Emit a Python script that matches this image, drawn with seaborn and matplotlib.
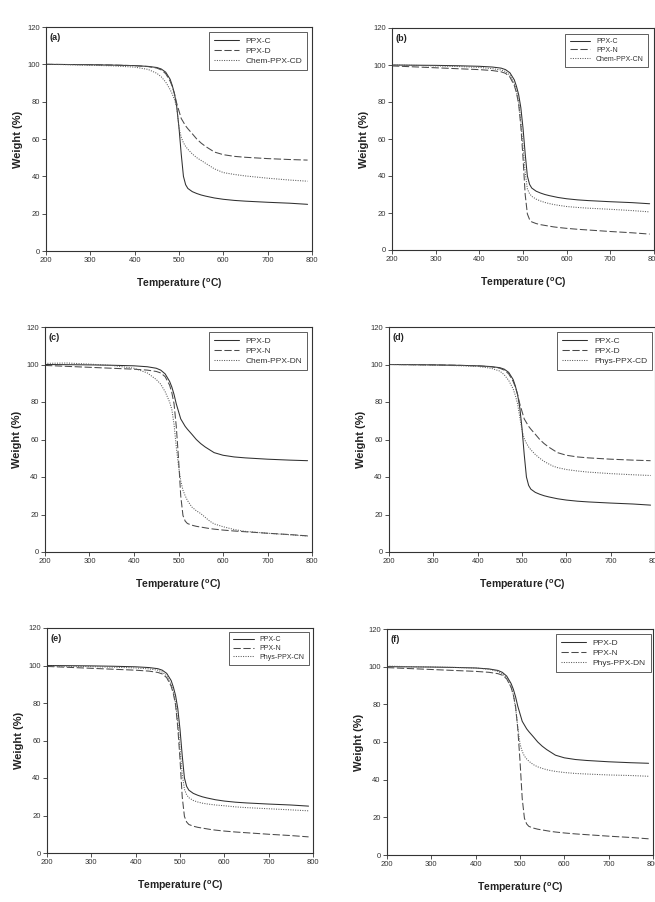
import matplotlib
matplotlib.use("Agg")
import matplotlib.pyplot as plt
import seaborn as sns
import pandas as pd

# ---------------- data ----------------
temperature = [200, 250, 300, 350, 400, 430, 450, 460, 470, 480, 485, 490, 495, 500, 505,
               510, 515, 520, 530, 540, 550, 560, 570, 580, 600, 625, 650, 700, 750, 790]

ppx_c = [100, 99.9, 99.8, 99.6, 99.3, 98.9, 98.3, 97.5, 95.8, 92, 88.5, 84, 77, 66, 52,
         40, 35.5, 33.5, 31.8, 30.8, 30, 29.4, 28.9, 28.4, 27.7, 27.1, 26.7, 26.1, 25.6, 25.0]
ppx_d = [100, 99.9, 99.8, 99.6, 99.3, 98.8, 98, 97, 95, 91, 88, 84, 79, 75, 71,
         69, 67, 65.5, 62.8, 60, 57.8, 56, 54.5, 53, 51.6, 50.7, 50.2, 49.5, 49, 48.7]
ppx_n = [99.5, 99, 98.5, 98, 97.5, 97, 96.3, 95.5, 93.5, 89, 85, 79, 67, 50, 30,
         19.5, 16.5, 15.2, 14.3, 13.7, 13.3, 12.9, 12.5, 12.2, 11.7, 11.2, 10.8, 10.0, 9.3, 8.6]
chem_cd = [100, 99.8, 99.5, 99.2, 98.5, 97.3, 95.2, 93.3, 90.5, 86.5, 84, 81, 77, 66, 61,
           58, 56, 54.5, 52, 50, 48.5, 47, 45.5, 44, 42, 41, 40.2, 39, 38, 37.4]
chem_cn = [100, 99.8, 99.5, 99.2, 98.7, 98, 97.3, 96.5, 94.5, 90, 86, 80, 70, 56, 42,
           33, 30.5, 29, 27.5, 26.5, 25.7, 25.1, 24.6, 24.2, 23.5, 23, 22.6, 22, 21.3, 20.6]
chem_dn = [100.6, 100.8, 100.2, 99.5, 98, 95.5, 92, 89.5, 85.5, 80, 76, 68, 56, 46, 38,
           33, 30, 27.5, 24, 22, 20.5, 18.5, 16.5, 15, 13.5, 12, 11, 10, 9.2, 8.5]
phys_cd = [100, 99.9, 99.7, 99.4, 99, 98, 96.5, 94.5, 91.5, 87, 83.5, 79, 72, 65, 60.5,
           58, 56, 54.5, 52, 50, 48.3, 47, 45.8, 45, 44, 43.2, 42.6, 41.8, 41.2, 40.8]
phys_cn = [99.8, 99.6, 99.4, 99.1, 98.7, 98.2, 97.5, 96.5, 94.5, 90, 86, 80, 70, 56, 42,
           34, 31, 29.5, 28, 27.2, 26.6, 26.2, 25.9, 25.6, 25.2, 24.6, 24.2, 23.6, 23, 22.5]
phys_dn = [100.3, 100, 99.8, 99.6, 99.3, 98.6, 97.5, 96.3, 94, 89, 85, 78, 68, 59, 55,
           52.5, 51, 49.8, 48, 46.8, 46, 45.3, 44.8, 44.4, 43.8, 43.3, 43, 42.5, 42.2, 41.8]

panel_labels = ["(a)", "(b)", "(c)", "(d)", "(e)", "(f)"]
panel_series = [
    [("PPX-C", ppx_c), ("PPX-D", ppx_d), ("Chem-PPX-CD", chem_cd)],
    [("PPX-C", ppx_c), ("PPX-N", ppx_n), ("Chem-PPX-CN", chem_cn)],
    [("PPX-D", ppx_d), ("PPX-N", ppx_n), ("Chem-PPX-DN", chem_dn)],
    [("PPX-C", ppx_c), ("PPX-D", ppx_d), ("Phys-PPX-CD", phys_cd)],
    [("PPX-C", ppx_c), ("PPX-N", ppx_n), ("Phys-PPX-CN", phys_cn)],
    [("PPX-D", ppx_d), ("PPX-N", ppx_n), ("Phys-PPX-DN", phys_dn)],
]
x_ticks = [200, 300, 400, 500, 600, 700, 800]
y_ticks = [0, 20, 40, 60, 80, 100, 120]

# ---------------- style ----------------
sns.set_style("ticks")
plt.rcParams["font.family"] = ["Liberation Sans", "DejaVu Sans"]
plt.rcParams["mathtext.default"] = "regular"

W, H = 655, 902
fig = plt.figure(figsize=(W / 100, H / 100), dpi=100)

# axes boxes in pixels: left, right, top, bottom
boxes = [(46, 312, 27, 251), (392, 654, 28, 250),
         (45, 312, 327, 552), (389, 655, 327, 552),
         (47, 313, 628, 853), (387, 653, 629, 855)]
legend_anchor = [(0.982, 0.978), (0.977, 0.973), (0.981, 0.978),
                 (0.989, 0.978), (0.985, 0.982), (0.992, 0.978)]
legend_fs = [6.0, 5.0, 6.0, 6.0, 5.0, 6.0]

styles = [dict(color="#303030", linestyle="-"),
          dict(color="#4a4a4a", linestyle=(0, (7, 2.5))),
          dict(color="#5a5a5a", linestyle=(0, (1, 1.3)))]

for i, (l, r, t, b) in enumerate(boxes):
    ax = fig.add_axes([l / W, 1 - b / H, (r - l) / W, (b - t) / H])
    for (name, vals), st in zip(panel_series[i], styles):
        df = pd.DataFrame({"T": temperature, "W": vals})
        sns.lineplot(data=df, x="T", y="W", ax=ax, label=name, linewidth=0.75,
                     color=st["color"], linestyle=st["linestyle"])
    ax.set_xlim(200, 800)
    ax.set_ylim(0, 120)
    ax.set_xticks(x_ticks)
    ax.set_yticks(y_ticks)
    ax.tick_params(direction="out", length=3, width=0.6, labelsize=5.5,
                   colors="#333333", pad=1.5)
    for sp in ax.spines.values():
        sp.set_visible(True)
        sp.set_color("#333333")
        sp.set_linewidth(0.8)
    ax.set_xlabel(r"Temperature ($^{o}$C)", fontsize=7.5, fontweight="bold",
                  color="#222222", labelpad=9)
    ax.set_ylabel("Weight (%)", fontsize=8, fontweight="bold",
                  color="#222222", labelpad=3)
    ax.text(0.012, 0.975, panel_labels[i], transform=ax.transAxes, ha="left",
            va="top", fontsize=6.5, fontweight="bold", color="#222222")
    leg = ax.legend(loc="upper right", bbox_to_anchor=legend_anchor[i],
                    borderaxespad=0, fontsize=legend_fs[i], frameon=True,
                    fancybox=False, framealpha=1, edgecolor="#444444",
                    handlelength=3.0, handletextpad=0.8, labelspacing=0.25,
                    borderpad=0.6)
    leg.get_frame().set_linewidth(0.6)
    for txt in leg.get_texts():
        txt.set_color("#333333")

fig.savefig("out.png", dpi=100)
